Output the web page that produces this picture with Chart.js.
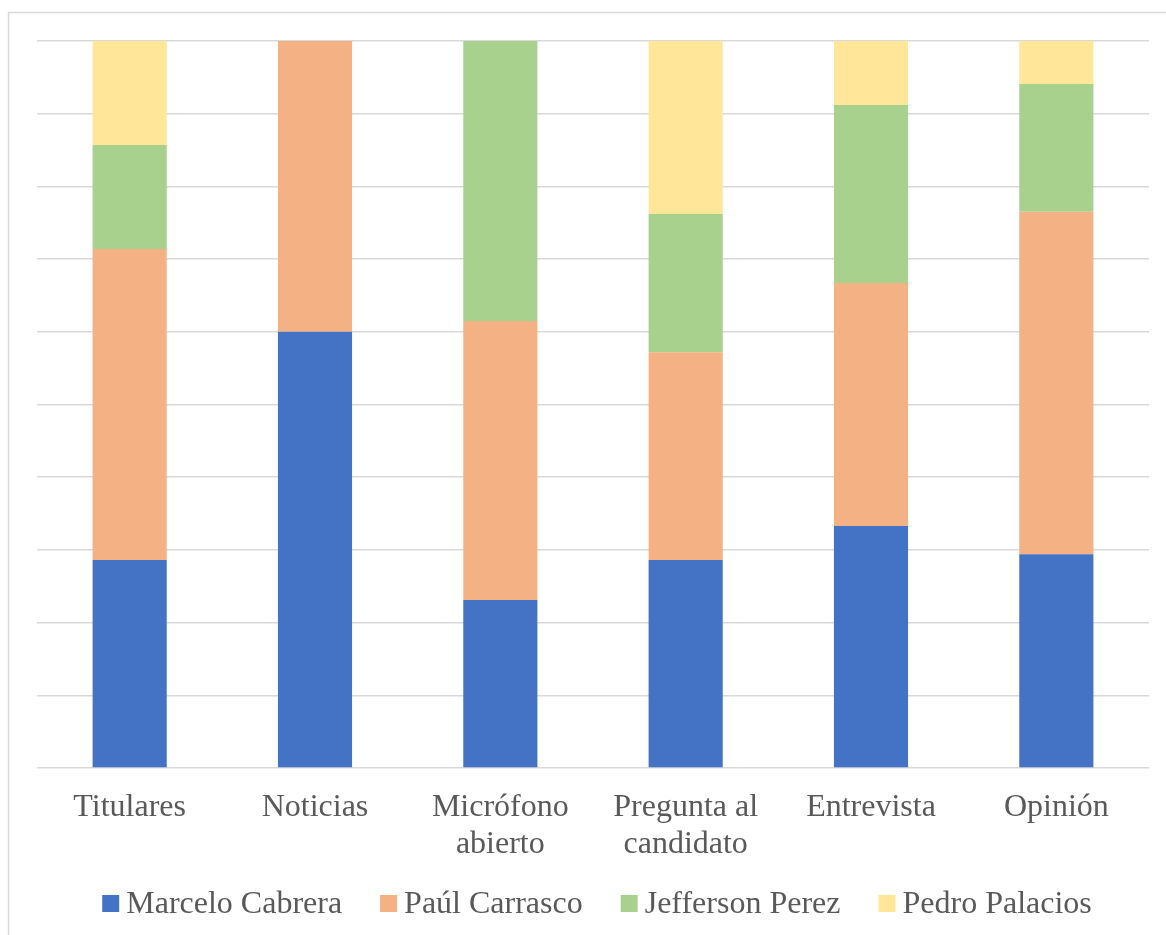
<!DOCTYPE html>
<html lang="es">
<head>
<meta charset="utf-8">
<title>Presencia de candidatos por sección</title>
<script src="https://cdn.jsdelivr.net/npm/chart.js@4.4.1/dist/chart.umd.min.js"></script>
<style>
  html, body { margin: 0; padding: 0; background: #ffffff; }
  #wrap { width: 1166px; height: 935px; }
</style>
</head>
<body>
<div id="wrap"><canvas id="chart" width="1166" height="935"></canvas></div>
<script>
// Sections of the programme (multi-line labels as arrays)
const categories = [
  'Titulares',
  'Noticias',
  ['Micrófono', 'abierto'],
  ['Pregunta al', 'candidato'],
  'Entrevista',
  'Opinión'
];

// Share of each candidate per section (%)
const marceloCabrera = [28.6, 60.0, 23.1, 28.6, 33.3, 29.4];
const paulCarrasco   = [42.8, 40.0, 38.4, 28.6, 33.4, 47.1];
const jeffersonPerez = [14.3,  0.0, 38.5, 19.0, 24.5, 17.6];
const pedroPalacios  = [14.3,  0.0,  0.0, 23.8,  8.8,  5.9];

const seriesNames = ['Marcelo Cabrera', 'Paúl Carrasco', 'Jefferson Perez', 'Pedro Palacios'];

// Value axis: 0–100 %, gridline every 10
const yMin = 0;
const yMax = 100;
const yStep = 10;

const FONT_FAMILY = '"Liberation Serif", "Times New Roman", Times, serif';
const TEXT_COLOR = '#595959';
const GRID_COLOR = '#d9d9d9';
const COLORS = ['#4472c4', '#f4b183', '#a9d18e', '#ffe699'];

// Thin frame around the chart (top and left edges)
const framePlugin = {
  id: 'frame',
  beforeDraw(chart) {
    const ctx = chart.ctx;
    ctx.save();
    ctx.strokeStyle = GRID_COLOR;
    ctx.lineWidth = 1.5;
    ctx.beginPath();
    ctx.moveTo(8.5, chart.height);
    ctx.lineTo(8.5, 12.5);
    ctx.lineTo(chart.width, 12.5);
    ctx.stroke();
    ctx.restore();
  }
};

// Legend row under the axis labels: square swatch + name
const legendRowPlugin = {
  id: 'legendRow',
  afterDraw(chart) {
    const ctx = chart.ctx;
    const box = 17, boxGap = 7, itemGap = 38;
    ctx.save();
    ctx.font = '32px ' + FONT_FAMILY;
    const items = chart.data.datasets.map(ds => ({
      label: ds.label,
      color: ds.backgroundColor,
      w: ctx.measureText(ds.label).width
    }));
    const total = items.reduce((s, it) => s + box + boxGap + it.w, 0) + itemGap * (items.length - 1);
    const area = chart.chartArea;
    let x = (area.left + area.right) / 2 + 4 - total / 2;
    const cy = 903.5;
    ctx.textBaseline = 'middle';
    ctx.textAlign = 'left';
    items.forEach(it => {
      ctx.fillStyle = it.color;
      ctx.fillRect(x, cy - box / 2, box, box);
      ctx.fillStyle = TEXT_COLOR;
      ctx.fillText(it.label, x + box + boxGap, cy + 1);
      x += box + boxGap + it.w + itemGap;
    });
    ctx.restore();
  }
};

const seriesValues = [marceloCabrera, paulCarrasco, jeffersonPerez, pedroPalacios];

new Chart(document.getElementById('chart'), {
  type: 'bar',
  data: {
    labels: categories,
    datasets: seriesValues.map((vals, i) => ({
      label: seriesNames[i],
      data: vals,
      backgroundColor: COLORS[i],
      borderWidth: 0,
      barPercentage: 1,
      categoryPercentage: 0.4
    }))
  },
  options: {
    responsive: false,
    animation: false,
    layout: { padding: { left: 37, right: 17, top: 41, bottom: 0 } },
    plugins: {
      legend: { display: false },
      tooltip: { enabled: false }
    },
    scales: {
      x: {
        stacked: true,
        grid: { display: false, drawTicks: false },
        border: { display: false },
        ticks: {
          color: TEXT_COLOR,
          font: { family: FONT_FAMILY, size: 32, lineHeight: 1.15 },
          padding: 21,
          maxRotation: 0,
          autoSkip: false
        },
        afterFit(scale) { scale.height = 167; }
      },
      y: {
        stacked: true,
        min: yMin,
        max: yMax,
        ticks: { display: false, stepSize: yStep },
        grid: { color: GRID_COLOR, lineWidth: 1.5, drawTicks: false },
        border: { display: false },
        afterFit(scale) { scale.width = 0; }
      }
    }
  },
  plugins: [framePlugin, legendRowPlugin]
});
</script>
</body>
</html>
